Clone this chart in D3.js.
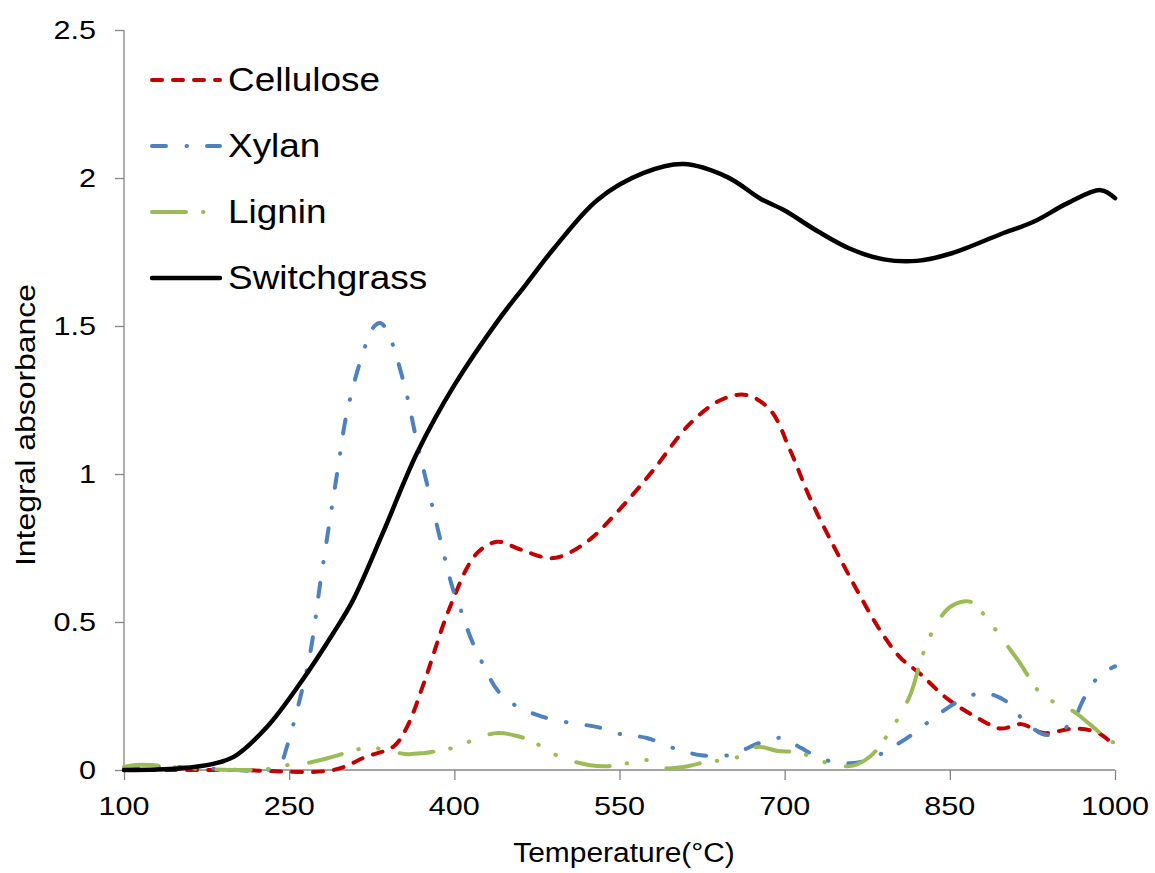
<!DOCTYPE html>
<html>
<head>
<meta charset="utf-8">
<script src="https://cdn.jsdelivr.net/npm/d3@7"></script>
<style>
  html, body { margin: 0; padding: 0; background: #fff; }
  svg { display: block; }
  text { font-family: "Liberation Sans", Arial, sans-serif; fill: #000; }
</style>
</head>
<body>
<svg id="chart" width="1155" height="873"></svg>
<script>
// ---------- data ----------
const xTicks = [100, 250, 400, 550, 700, 850, 1000];
const yTicks = [0, 0.5, 1, 1.5, 2, 2.5];
const yTickLabels = ["0", "0.5", "1", "1.5", "2", "2.5"];
const seriesNames = ["Cellulose", "Xylan", "Lignin", "Switchgrass"];

const celluloseT = [100,200,290,320,345,357,372,396,420,439,460,490,520,550,580,614,642,665,687,705,724,751,769,787,805,823,848,878,896,915,935,963,985,1000];
const celluloseV = [0,0,0,0.045,0.08,0.145,0.29,0.55,0.73,0.771,0.745,0.716,0.77,0.88,1.01,1.17,1.25,1.267,1.216,1.08,0.91,0.71,0.585,0.47,0.38,0.325,0.24,0.17,0.14,0.155,0.125,0.14,0.125,0.08];

const xylanT = [100,120,150,190,230,242,248,266,272,277,286,294,302,315,327,333,340,355,366,378,390,399,404,415,423,439,452,475,501,530,550,575,599,624,649,680,698,715,727,744,763,776,792,815,835,857,880,902,919,939,960,972,986,1000];
const xylanV = [0.005,0.012,0.01,0.003,0,0.023,0.079,0.338,0.46,0.6,0.822,1.013,1.199,1.385,1.498,1.51,1.475,1.295,1.109,0.923,0.737,0.608,0.56,0.445,0.38,0.27,0.226,0.186,0.162,0.145,0.122,0.108,0.074,0.05,0.05,0.095,0.108,0.074,0.05,0.027,0.024,0.034,0.064,0.118,0.175,0.23,0.26,0.23,0.16,0.118,0.158,0.243,0.32,0.35];

const ligninT = [100,110,125,150,180,210,235,249,267,290,317,336,355,372,381,404,422,440,457,472,487,504,522,540,563,574,590,608,625,658,675,694,712,727,742,761,777,789,807,815,826,840,853,870,882,903,913,923,934,963,977,992,1000];
const ligninV = [0.01,0.017,0.017,0.008,0.002,0,0.005,0.017,0.024,0.045,0.073,0.07,0.054,0.057,0.062,0.08,0.11,0.125,0.115,0.095,0.06,0.034,0.017,0.013,0.027,0.034,0.007,0.01,0.024,0.044,0.078,0.064,0.06,0.04,0.02,0.014,0.044,0.095,0.2,0.263,0.395,0.507,0.557,0.567,0.52,0.416,0.365,0.307,0.253,0.196,0.155,0.108,0.09];

const switchgrassT = [100,150,180,200,230,260,290,308,335,366,400,440,465,490,530,572,608,648,678,700,730,760,790,820,851,896,926,957,987,1000];
const switchgrassV = [0,0.005,0.02,0.045,0.146,0.293,0.462,0.574,0.80,1.07,1.30,1.52,1.64,1.76,1.926,2.017,2.047,2.003,1.93,1.89,1.82,1.76,1.725,1.72,1.745,1.81,1.852,1.915,1.959,1.932];

// ---------- styles ----------
const styles = {
  Cellulose:   { color: "#C00000", width: 4,   dash: "10,11" },
  Xylan:       { color: "#4F81BD", width: 4,   dash: "14,20.5,0.5,20" },
  Lignin:      { color: "#9BBB59", width: 4,   dash: "34,17,0.5,19.5,0.5,21.5" },
  Switchgrass: { color: "#000000", width: 4.5, dash: null }
};

const series = [
  { name: "Cellulose",   T: celluloseT,   V: celluloseV },
  { name: "Xylan",       T: xylanT,       V: xylanV },
  { name: "Lignin",      T: ligninT,      V: ligninV },
  { name: "Switchgrass", T: switchgrassT, V: switchgrassV }
];

// ---------- layout ----------
const svg = d3.select("#chart");
const plot = { left: 124, right: 1115, top: 30, bottom: 770 };
const x = d3.scaleLinear().domain([100, 1000]).range([plot.left, plot.right]);
const y = d3.scaleLinear().domain([0, 2.5]).range([plot.bottom, plot.top]);
const axisColor = "#868686";

// axes
const yAxis = svg.append("g").attr("transform", `translate(${plot.left},0)`)
  .call(d3.axisLeft(y).tickValues(yTicks).tickSize(9).tickFormat(""));
const xAxis = svg.append("g").attr("transform", `translate(0,${plot.bottom})`)
  .call(d3.axisBottom(x).tickValues(xTicks).tickSize(10).tickFormat(""));
[yAxis, xAxis].forEach(g => {
  g.select(".domain").attr("stroke", axisColor).attr("stroke-width", 1.3);
  g.selectAll(".tick line").attr("stroke", axisColor).attr("stroke-width", 1.3);
});
yAxis.select(".domain").attr("d", `M0,${plot.top}V${plot.bottom}`);
xAxis.select(".domain").attr("d", `M${plot.left},0H${plot.right}`);

// tick labels
const tickFont = 25.5, tickStretch = 1.2;
svg.append("g").selectAll("text").data(yTicks).join("text")
  .attr("transform", d => `translate(${plot.left - 28},${y(d) + 8.5}) scale(${tickStretch},1)`)
  .attr("text-anchor", "end").attr("font-size", tickFont)
  .text((d, i) => yTickLabels[i]);
svg.append("g").selectAll("text").data(xTicks).join("text")
  .attr("transform", d => `translate(${x(d)},${plot.bottom + 45}) scale(${tickStretch},1)`)
  .attr("text-anchor", "middle").attr("font-size", tickFont)
  .text(d => d);

// axis titles
svg.append("text")
  .attr("transform", `translate(624,862) scale(1.07,1)`)
  .attr("text-anchor", "middle").attr("font-size", 28)
  .text("Temperature(°C)");
svg.append("text")
  .attr("transform", `translate(35,425) rotate(-90) scale(1.14,1)`)
  .attr("text-anchor", "middle").attr("font-size", 28)
  .text("Integral absorbance");

// lines
const line = d3.line().curve(d3.curveCatmullRom.alpha(0.5));
const linesG = svg.append("g");
series.forEach(s => {
  const st = styles[s.name];
  const pts = s.T.map((t, i) => [x(t), y(s.V[i])]);
  const p = linesG.append("path")
    .attr("d", line(pts))
    .attr("fill", "none")
    .attr("stroke", st.color)
    .attr("stroke-width", st.width)
    .attr("stroke-linecap", "round")
    .attr("stroke-linejoin", "round");
  if (st.dash) p.attr("stroke-dasharray", st.dash);
});

// legend
const legendRows = [80, 146, 212, 278];
const legend = svg.append("g");
seriesNames.forEach((name, i) => {
  const st = styles[name];
  const yy = legendRows[i];
  const l = legend.append("line")
    .attr("x1", 152).attr("x2", 220).attr("y1", yy).attr("y2", yy)
    .attr("stroke", st.color).attr("stroke-width", st.width)
    .attr("stroke-linecap", "round");
  if (st.dash) l.attr("stroke-dasharray", st.dash);
  legend.append("text")
    .attr("transform", `translate(228,${yy + 11}) scale(1.12,1)`)
    .attr("font-size", 33)
    .text(name);
});
</script>
</body>
</html>
